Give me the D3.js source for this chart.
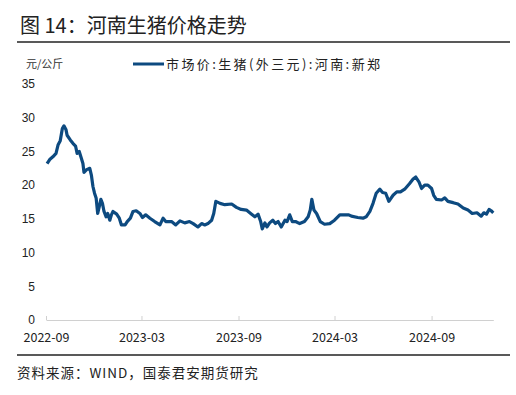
<!DOCTYPE html>
<html>
<head>
<meta charset="utf-8">
<script src="https://cdn.jsdelivr.net/npm/d3@7"></script>
<style>
    body { margin: 0; background: #fff; }
    #chart svg { display: block; }
</style>
</head>
<body>
<div id="chart"></div>
<script>
const titleText = '图 14：河南生猪价格走势'
const unitLabel = '元/公斤'
const seriesName = '市场价:生猪(外三元):河南:新郑'
const sourceText = '资料来源：WIND，国泰君安期货研究'

const dates = [
    '2022-09-03', '2022-09-08', '2022-09-14', '2022-09-20', '2022-09-24', '2022-09-28',
    '2022-10-02', '2022-10-05', '2022-10-09', '2022-10-11', '2022-10-17', '2022-10-22',
    '2022-10-27', '2022-10-30', '2022-11-03', '2022-11-07', '2022-11-10', '2022-11-12',
    '2022-11-17', '2022-11-23', '2022-11-26', '2022-11-29', '2022-12-02', '2022-12-05',
    '2022-12-08', '2022-12-11', '2022-12-14', '2022-12-17', '2022-12-20', '2022-12-24',
    '2022-12-27', '2022-12-31', '2023-01-03', '2023-01-06', '2023-01-13', '2023-01-18',
    '2023-01-22', '2023-01-29', '2023-02-02', '2023-02-08', '2023-02-13', '2023-02-19',
    '2023-02-26', '2023-03-03', '2023-03-09', '2023-03-17', '2023-03-26', '2023-04-05',
    '2023-04-11', '2023-04-16', '2023-04-27', '2023-05-05', '2023-05-13', '2023-05-22',
    '2023-05-31', '2023-06-07', '2023-06-16', '2023-06-23', '2023-06-29', '2023-07-05',
    '2023-07-12', '2023-07-16', '2023-07-20', '2023-07-28', '2023-08-06', '2023-08-19',
    '2023-08-28', '2023-09-06', '2023-09-16', '2023-09-24', '2023-10-02', '2023-10-08',
    '2023-10-13', '2023-10-16', '2023-10-21', '2023-10-25', '2023-10-30', '2023-11-05',
    '2023-11-10', '2023-11-15', '2023-11-21', '2023-11-28', '2023-12-02', '2023-12-07',
    '2023-12-12', '2023-12-18', '2023-12-26', '2024-01-04', '2024-01-11', '2024-01-15',
    '2024-01-18', '2024-01-22', '2024-01-27', '2024-02-03', '2024-02-11', '2024-02-21',
    '2024-03-01', '2024-03-11', '2024-03-20', '2024-03-28', '2024-04-02', '2024-04-14',
    '2024-04-24', '2024-04-30', '2024-05-07', '2024-05-13', '2024-05-19', '2024-05-26',
    '2024-05-31', '2024-06-06', '2024-06-12', '2024-06-20', '2024-06-27', '2024-07-04',
    '2024-07-12', '2024-07-21', '2024-07-28', '2024-08-02', '2024-08-08', '2024-08-13',
    '2024-08-19', '2024-08-25', '2024-09-01', '2024-09-05', '2024-09-10', '2024-09-20',
    '2024-09-26', '2024-10-02', '2024-10-12', '2024-10-21', '2024-10-31', '2024-11-09',
    '2024-11-17', '2024-11-26', '2024-12-04', '2024-12-09', '2024-12-14', '2024-12-19',
    '2024-12-23', '2024-12-27'
]

const prices = [
    23.2, 23.8, 24.2, 24.7, 26.0, 26.6,
    28.4, 28.8, 28.2, 27.4, 26.7, 26.2,
    25.8, 24.7, 25.0, 24.0, 23.2, 21.9,
    22.3, 22.5, 21.5, 19.8, 18.8, 18.1,
    15.8, 16.8, 17.9, 17.3, 16.1, 15.3,
    15.8, 14.8, 15.6, 16.1, 15.7, 15.1,
    14.1, 14.1, 14.6, 15.1, 16.1, 16.2,
    15.8, 15.2, 15.6, 15.1, 14.6, 14.1,
    15.1, 14.6, 14.6, 14.1, 14.7, 14.4,
    14.6, 14.3, 13.8, 14.3, 14.1, 14.3,
    14.8, 15.8, 17.6, 17.3, 17.1, 17.2,
    16.7, 16.4, 16.3, 15.8, 15.3, 15.7,
    14.6, 13.5, 14.4, 13.8, 14.4, 14.8,
    14.3, 14.6, 13.8, 14.8, 14.6, 15.6,
    14.6, 14.6, 14.3, 14.6, 15.3, 16.3,
    17.9, 16.3, 15.8, 14.6, 14.2, 14.3,
    14.8, 15.6, 15.6, 15.6, 15.4, 15.2,
    15.1, 15.3, 16.1, 17.3, 18.8, 19.4,
    18.9, 18.8, 17.6, 18.5, 19.0, 19.0,
    19.4, 20.2, 20.9, 21.2, 20.5, 19.5,
    20.0, 20.0, 19.5, 18.5, 17.9, 17.8,
    18.1, 17.6, 17.4, 17.2, 16.6, 16.3,
    15.8, 15.9, 15.4, 15.9, 15.7, 16.4,
    16.2, 15.9
]

const yTicks = [0, 5, 10, 15, 20, 25, 30, 35]
const xTicks = ['2022-09-01', '2023-03-01', '2023-09-01', '2024-03-01', '2024-09-01']
const xDomain = ['2022-09-01', '2024-12-27']

const viewBoxWidth = 516
const viewBoxHeight = 395
const plotLeft = 46
const plotRight = 493.3
const plotTop = 84
const plotBottom = 320
const lineColour = '#0d4a80'
const cjkFont = '"Noto Sans CJK SC", "Noto Sans", sans-serif'

const parseDate = d3.timeParse('%Y-%m-%d')
const series = dates.map((d, i) => ({ date: parseDate(d), value: prices[i] }))

const svg = d3.select('#chart')
    .append('svg')
    .attr('width', viewBoxWidth)
    .attr('height', viewBoxHeight)
    .attr('viewBox', [0, 0, viewBoxWidth, viewBoxHeight])

const x = d3.scaleTime()
    .domain(xDomain.map(parseDate))
    .range([plotLeft, plotRight])
const y = d3.scaleLinear()
    .domain([0, 35])
    .range([plotBottom, plotTop])

// Title and rules
svg.append('text')
    .attr('x', 20)
    .attr('y', 33)
    .attr('font-family', cjkFont)
    .attr('font-size', 20)
    .attr('fill', '#222')
    .text(titleText)
svg.append('line')
    .attr('x1', 17).attr('x2', 510)
    .attr('y1', 42).attr('y2', 42)
    .attr('stroke', '#595959')
    .attr('stroke-width', 2)
svg.append('line')
    .attr('x1', 17).attr('x2', 510)
    .attr('y1', 355).attr('y2', 355)
    .attr('stroke', '#595959')
    .attr('stroke-width', 2)
svg.append('text')
    .attr('x', 17)
    .attr('y', 378)
    .attr('font-family', cjkFont)
    .attr('font-size', 13.5)
    .attr('letter-spacing', 1)
    .attr('fill', '#222')
    .text(sourceText)

// Unit and legend
svg.append('text')
    .attr('x', 26)
    .attr('y', 68)
    .attr('font-family', cjkFont)
    .attr('font-size', 11)
    .attr('fill', '#333')
    .text(unitLabel)
svg.append('line')
    .attr('x1', 133).attr('x2', 164)
    .attr('y1', 64).attr('y2', 64)
    .attr('stroke', lineColour)
    .attr('stroke-width', 3)
svg.append('text')
    .attr('x', 166)
    .attr('y', 68.5)
    .attr('font-family', cjkFont)
    .attr('font-size', 13)
    .attr('letter-spacing', 2.4)
    .attr('fill', '#222')
    .text(seriesName)

// Y axis (labels only)
const yAxis = svg.append('g')
    .attr('transform', `translate(${plotLeft}, 0)`)
    .call(d3.axisLeft(y).tickValues(yTicks).tickSize(0).tickPadding(11))
yAxis.select('.domain').remove()
yAxis.selectAll('text')
    .attr('font-family', '"Liberation Sans", Arial, sans-serif')
    .attr('font-size', 12)
    .attr('fill', '#222')

// X axis, ticks point up
const xAxis = svg.append('g')
    .attr('transform', `translate(0, ${plotBottom})`)
    .call(d3.axisBottom(x)
        .tickValues(xTicks.map(parseDate))
        .tickFormat(d3.timeFormat('%Y-%m'))
        .tickSize(-4)
        .tickSizeOuter(0)
        .tickPadding(13))
xAxis.select('.domain').attr('stroke', '#d0d0d0')
xAxis.selectAll('.tick line').attr('stroke', '#d0d0d0')
xAxis.selectAll('text')
    .attr('font-family', cjkFont)
    .attr('font-size', 12.5)
    .attr('fill', '#222')

// Price line
svg.append('path')
    .datum(series)
    .attr('fill', 'none')
    .attr('stroke', lineColour)
    .attr('stroke-width', 3.2)
    .attr('stroke-linejoin', 'round')
    .attr('d', d3.line()
        .x(d => x(d.date))
        .y(d => y(d.value)))
</script>
</body>
</html>
